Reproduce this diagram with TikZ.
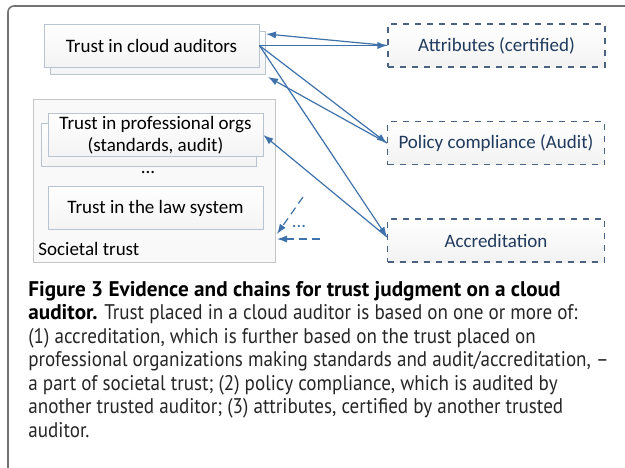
\documentclass[tikz,border=0pt]{standalone}
\usepackage{fontspec}
\usepackage{xcolor}
\definecolor{link-blue}{RGB}{63,114,170}
\definecolor{dash-slate}{RGB}{75,99,129}
\definecolor{evid-text}{RGB}{31,58,92}
\definecolor{box-edge}{RGB}{184,196,210}
\newfontfamily\boxfont{Carlito}
\newfontfamily\capfont[FakeStretch=0.9]{PT Sans}
\newfontfamily\capbold{PT Sans Bold}
\usepackage{tikz}
\usetikzlibrary{arrows.meta,calc,positioning}

\begin{document}
\begin{tikzpicture}[x=0.5pt,y=-0.5pt,
	>={Latex[length=5pt,width=3.6pt]},
	trustbox/.style={draw=box-edge,top color=white,bottom color=gray!9,
		minimum width=107.5pt,minimum height=21.5pt,inner sep=0pt,
		font=\boxfont\fontsize{9.5}{11}\selectfont,align=center},
	evidbox/.style={draw=dash-slate,dashed,line width=.6pt,
		top color=white,bottom color=gray!10,text=evid-text,
		minimum width=108.5pt,minimum height=21.5pt,inner sep=0pt,
		font=\boxfont\fontsize{9.5}{11}\selectfont},
	link/.style={->,link-blue,line width=.6pt},
	dashlink/.style={->,link-blue,line width=.6pt,dash pattern=on 4pt off 2.5pt}]
	\useasboundingbox (0,0) rectangle (625,467);
	% frame
	\draw[gray!90!black,line width=.8pt,rounded corners=3pt]
		(8,470) -- (8,6) -- (630,6);

	% cloud auditors
	\node[trustbox] (cloudback) at (157.5,52.5) {};
	\node[trustbox] (cloud) at (151.5,45.5) {Trust in cloud auditors};

	% societal trust
	\node[draw=gray!45,fill=gray!5,minimum width=121pt,minimum height=81.5pt,
		inner sep=0pt] (society) at (154,180.5) {};
	\node[trustbox] (profback) at (148.5,145) {};
	\node[trustbox] (prof) at (155.5,135)
		{Trust in professional orgs\\(standards, audit)};
	\node[font=\boxfont\fontsize{9.5}{11}\selectfont] (dots) at (148,172) {...};
	\node[trustbox] (law) at (155.5,208) {Trust in the law system};
	\node[anchor=west,inner sep=0pt,font=\boxfont\fontsize{9.5}{11}\selectfont]
		(societal) at (38,249) {Societal trust};

	% evidence
	\node[evidbox] (attr) at (496.5,45.5) {Attributes (certified)};
	\node[evidbox] (policy) at (496,143) {Policy compliance (Audit)};
	\node[evidbox] (accred) at (496,240.5) {Accreditation};

	\coordinate (attrtip) at (266,34);
	\coordinate (policytip) at (268,77);
	\coordinate (accredin) at (387,237);
	\coordinate (moreA) at (303,197);
	\coordinate (moreB) at (320,239);
	\coordinate (societyin) at (277,239);
	\coordinate (societyin2) at (277,234);

	\draw[link] (attr.west) -- (attrtip);
	\draw[link] (cloud.east) -- (attr.west);
	\draw[link] (cloud.east) -- (policy.west);
	\draw[link] (policy.west) -- (policytip);
	\draw[link] (cloud.east) -- (accredin);
	\draw[link] (accredin) -- (prof.east);

	\draw[dashlink] (moreA) -- (societyin2);
	\draw[dashlink] (moreB) -- (societyin);
	\node[text=link-blue,font=\boxfont\fontsize{9.5}{11}\selectfont,inner sep=0pt]
		(more) at (299,226) {...};

	% caption
	\node[anchor=north west,inner sep=0pt,align=left,text=black!85,
		font=\capfont\fontsize{10.6}{11.75}\selectfont] (caption) at (28,281)
		{{\capbold\color{black}Figure 3 Evidence and chains for trust judgment on a cloud}\\
		{\capbold\color{black}auditor.} Trust placed in a cloud auditor is based on one or more of:\\
		(1) accreditation, which is further based on the trust placed on\\
		professional organizations making standards and audit/accreditation, –\\
		a part of societal trust; (2) policy compliance, which is audited by\\
		another trusted auditor; (3) attributes, certified by another trusted\\
		auditor.};
\end{tikzpicture}
\end{document}
